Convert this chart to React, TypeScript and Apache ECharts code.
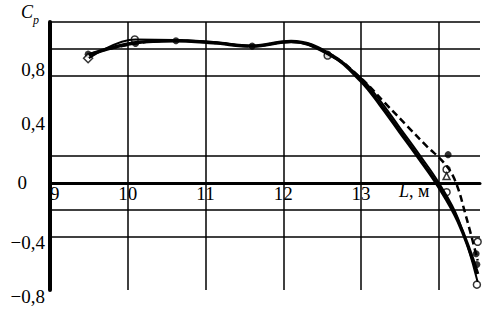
import React, { useEffect, useRef } from "react";
import * as echarts from "echarts";

// Fitted curves
const thickX = [9.5, 10.1, 10.6, 11.1, 11.6, 12.1, 12.6, 13.0, 13.25, 13.5, 13.75, 14.0, 14.25, 14.5];
const thickY = [0.955, 1.045, 1.06, 1.045, 1.02, 1.055, 0.96, 0.76, 0.58, 0.38, 0.18, -0.03, -0.29, -0.68];
const thinX = [9.5, 10.1, 10.6, 11.1, 11.6, 12.1, 12.6, 13.0, 13.25, 13.5, 13.75, 14.0, 14.25, 14.5];
const thinY = [0.93, 1.07, 1.065, 1.05, 1.02, 1.05, 0.95, 0.78, 0.61, 0.41, 0.21, 0.0, -0.27, -0.74];
const dashX = [9.5, 10.1, 10.6, 11.1, 11.6, 12.1, 12.6, 13.0, 13.3, 13.6, 13.85, 14.05, 14.2, 14.35, 14.5];
const dashY = [0.96, 1.04, 1.06, 1.045, 1.02, 1.055, 0.96, 0.78, 0.6, 0.42, 0.27, 0.16, 0.03, -0.25, -0.58];

// Measured points
const filledX = [9.49, 10.1, 10.62, 11.6, 12.57, 14.12, 14.48, 14.49];
const filledY = [0.96, 1.04, 1.06, 1.02, 0.96, 0.21, -0.53, -0.61];
const openX = [10.09, 12.57, 14.1, 14.1, 14.5, 14.49];
const openY = [1.07, 0.95, 0.1, -0.07, -0.44, -0.76];
const diamondX = [9.49];
const diamondY = [0.93];
const triangleX = [14.1];
const triangleY = [0.05];

// Axes
const xTicks = [9, 10, 11, 12, 13];
const yTickLabels = ["−0,8", "−0,4", "0", "0,4", "0,8"];
const yTickValues = [-0.8, -0.4, 0, 0.4, 0.8];
const hGrid = [1.2, 1.0, 0.8, 0.2, -0.2, -0.4];
const vGrid = [10, 11, 12, 13, 14];
const Y_MIN = -0.8;
const Y_MAX = 1.2;

const zip = (xs: number[], ys: number[]) => xs.map((x, i) => [x, ys[i]]);
const FONT = "Liberation Serif";

export default function App() {
  const ref = useRef<HTMLDivElement>(null);
  useEffect(() => {
    document.body.style.margin = "0";
    if (!ref.current) return;
    const chart = echarts.init(ref.current, undefined, { renderer: "svg" });
    const grid = { left: 50, right: 10, top: 22, bottom: 20 };
    const plotH = 310 - grid.top - grid.bottom;
    const zeroOffset = -((0 - Y_MIN) / (Y_MAX - Y_MIN)) * plotH;
    chart.setOption({
      animation: false,
      backgroundColor: "#fff",
      grid,
      xAxis: {
        type: "value",
        min: 9,
        max: 14.53,
        interval: 1,
        offset: zeroOffset,
        axisLine: { onZero: false, lineStyle: { color: "#000", width: 3 } },
        axisTick: { show: false },
        splitLine: { show: false },
        axisLabel: {
          margin: 1,
          color: "#000",
          fontFamily: FONT,
          fontSize: 19,
          alignMinLabel: "left",
          formatter: (v: number) => {
            const r = Math.round(v);
            return xTicks.includes(r) && Math.abs(v - r) < 1e-6 ? String(r) : "";
          },
        },
      },
      yAxis: {
        type: "value",
        min: Y_MIN,
        max: Y_MAX,
        interval: 0.4,
        axisLine: { show: true, onZero: false, lineStyle: { color: "#000", width: 4 } },
        axisTick: { show: false },
        splitLine: { show: false },
        axisLabel: {
          margin: 5,
          color: "#000",
          fontFamily: FONT,
          fontSize: 19,
          formatter: (v: number) => {
            const r = Math.round(v * 10) / 10;
            const i = yTickValues.findIndex((t) => Math.abs(t - r) < 1e-6);
            if (i < 0) return "";
            const s = yTickLabels[i];
            if (r > 0) return `{up|${s}}`;
            if (r < 0) return `{dn|${s}}`;
            return `{z|${s}}`;
          },
          rich: {
            up: { fontFamily: FONT, fontSize: 19, color: "#000", padding: [0, 0, 12, 0] },
            dn: { fontFamily: FONT, fontSize: 19, color: "#000", padding: [12, 0, 0, 0] },
            z: { fontFamily: FONT, fontSize: 19, color: "#000", padding: [0, 18, 0, 0] },
          },
        },
      },
      graphic: [
        {
          type: "text",
          left: 21,
          top: 3,
          style: { text: "C", font: `italic 18px "${FONT}"`, fill: "#000" },
        },
        {
          type: "text",
          left: 33,
          top: 14,
          style: { text: "p", font: `italic 12px "${FONT}"`, fill: "#000" },
        },
        {
          type: "text",
          left: 399,
          top: 182,
          style: {
            text: "{i|L}, м",
            font: `18px "${FONT}"`,
            fill: "#000",
            rich: {
              i: { font: `italic 18px "${FONT}"`, fill: "#000" },
            },
          },
        },
      ],
      series: [
        {
          type: "line",
          data: [],
          silent: true,
          markLine: {
            silent: true,
            symbol: "none",
            label: { show: false },
            lineStyle: { color: "#000", width: 1.5, type: "solid" },
            data: [
              ...hGrid.map((y) => ({ yAxis: y })),
              ...vGrid.map((x) => ({ xAxis: x })),
            ],
          },
        },
        {
          type: "line",
          data: zip(dashX, dashY),
          smooth: 0.4,
          showSymbol: false,
          lineStyle: { color: "#000", width: 2.5, type: [7, 4] },
        },
        {
          type: "line",
          data: zip(thinX, thinY),
          smooth: 0.4,
          showSymbol: false,
          lineStyle: { color: "#000", width: 2 },
        },
        {
          type: "line",
          data: zip(thickX, thickY),
          smooth: 0.4,
          showSymbol: false,
          lineStyle: { color: "#000", width: 3.5 },
        },
        {
          type: "scatter",
          data: zip(filledX, filledY),
          symbol: "circle",
          symbolSize: 7,
          itemStyle: { color: "#000" },
        },
        {
          type: "scatter",
          data: zip(openX, openY),
          symbol: "circle",
          symbolSize: 7,
          itemStyle: { color: "#fff", borderColor: "#000", borderWidth: 1.5 },
        },
        {
          type: "scatter",
          data: zip(diamondX, diamondY),
          symbol: "diamond",
          symbolSize: 9,
          itemStyle: { color: "#fff", borderColor: "#000", borderWidth: 1.5 },
        },
        {
          type: "scatter",
          data: zip(triangleX, triangleY),
          symbol: "triangle",
          symbolSize: 7,
          itemStyle: { color: "#fff", borderColor: "#000", borderWidth: 1.5 },
        },
      ],
    });
    return () => chart.dispose();
  }, []);
  return <div ref={ref} style={{ width: 490, height: 310 }} />;
}
